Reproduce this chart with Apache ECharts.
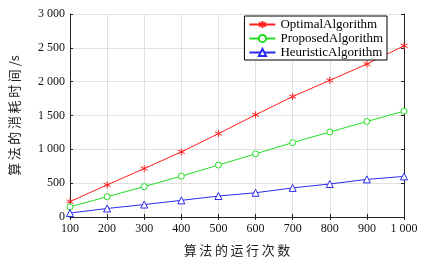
<!DOCTYPE html>
<html>
<head>
<meta charset="utf-8">
<script src="https://cdn.jsdelivr.net/npm/echarts@6/dist/echarts.min.js"></script>
<style>
  html, body { margin: 0; padding: 0; background: #fff; }
  #main { width: 423px; height: 262px; }
</style>
</head>
<body>
<div id="main"></div>
<script>
    var runs = [100, 200, 300, 400, 500, 600, 700, 800, 900, 1000];
    var optimal = [228, 474, 716, 962, 1232, 1510, 1780, 2020, 2260, 2530];
    var proposed = [150, 300, 449, 604, 768, 933, 1100, 1256, 1411, 1565];
    var heuristic = [58, 126, 184, 246, 310, 358, 430, 488, 556, 600];
    var names = ['OptimalAlgorithm', 'ProposedAlgorithm', 'HeuristicAlgorithm'];
    var colors = ['#ff2020', '#22dd22', '#2a2aee'];

    var serif = '"Liberation Serif", "DejaVu Serif", serif';
    var cjk = '"Noto Sans CJK SC", sans-serif';

    function pairs(vals) {
        var out = [];
        for (var i = 0; i < runs.length; i++) out.push([runs[i], vals[i]]);
        return out;
    }
    // 千位用空格分隔
    function fmt(v) {
        return String(v).replace(/\B(?=(\d{3})+(?!\d))/g, ' ');
    }
    // 字间加细空格
    function spaced(s) {
        return s.split('').join('\u2009');
    }

    var star = 'path://M0,-5L0,5M-4.33,-2.5L4.33,2.5M-4.33,2.5L4.33,-2.5';
    var gridLine = {show: true, lineStyle: {color: '#e0e0e0', width: 1}};
    var axisLine = {show: true, lineStyle: {color: '#222', width: 1}};
    var tick = {show: true, inside: true, length: 3, lineStyle: {color: '#222'}};

    var myChart = echarts.init(document.getElementById('main'));
    myChart.setOption({
        animation: false,
        grid: {left: 68, right: 19, top: 14, bottom: 40},
        legend: {
            right: 36, top: 16,
            orient: 'vertical',
            backgroundColor: '#fff',
            borderColor: '#000', borderWidth: 1,
            padding: [2, 4, 1, 4],
            itemGap: 1, itemWidth: 26, itemHeight: 9,
            textStyle: {fontFamily: serif, fontSize: 13, color: '#000'}
        },
        xAxis: [{
            type: 'value', min: 100, max: 1000, interval: 100,
            name: spaced('算法的运行次数'), nameLocation: 'middle', nameGap: 27,
            nameTextStyle: {fontFamily: cjk, fontSize: 13, color: '#222'},
            axisLine: axisLine, axisTick: tick,
            axisLabel: {fontFamily: serif, fontSize: 12, color: '#111', formatter: fmt, margin: 6},
            splitLine: gridLine
        }, {
            type: 'value', min: 100, max: 1000, interval: 100, position: 'top',
            axisLine: axisLine, axisTick: tick,
            axisLabel: {show: false}, splitLine: {show: false}
        }],
        yAxis: [{
            type: 'value', min: 0, max: 3000, interval: 500,
            name: spaced('算法的消耗时间') + ' /s', nameLocation: 'middle', nameGap: 49,
            nameTextStyle: {fontFamily: cjk, fontSize: 13, color: '#222'},
            axisLine: axisLine, axisTick: tick,
            axisLabel: {fontFamily: serif, fontSize: 12, color: '#111', formatter: fmt, margin: 5},
            splitLine: gridLine
        }, {
            type: 'value', min: 0, max: 3000, interval: 500, position: 'right',
            axisLine: axisLine, axisTick: tick,
            axisLabel: {show: false}, splitLine: {show: false}
        }],
        series: [
            {
                name: names[0], type: 'line', data: pairs(optimal),
                symbol: star, symbolSize: 7,
                lineStyle: {color: colors[0], width: 1},
                itemStyle: {color: colors[0], borderColor: colors[0], borderWidth: 1}
            },
            {
                name: names[1], type: 'line', data: pairs(proposed),
                symbol: 'circle', symbolSize: 6,
                lineStyle: {color: colors[1], width: 1},
                itemStyle: {color: '#fff', borderColor: colors[1], borderWidth: 1}
            },
            {
                name: names[2], type: 'line', data: pairs(heuristic),
                symbol: 'triangle', symbolSize: 7,
                lineStyle: {color: colors[2], width: 1},
                itemStyle: {color: '#fff', borderColor: colors[2], borderWidth: 1}
            }
        ]
    });
</script>
</body>
</html>
